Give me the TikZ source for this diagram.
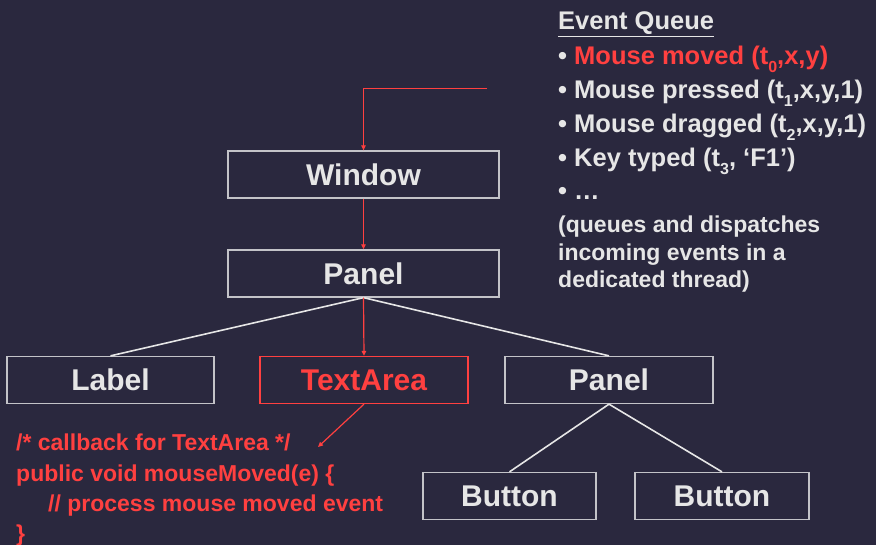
\documentclass[tikz,border=0pt]{standalone}
\usepackage{fontspec}
\setmainfont{Liberation Sans}
\usetikzlibrary{arrows.meta}
\definecolor{bg}{RGB}{42,40,62}
\definecolor{hl}{RGB}{255,64,64}
\definecolor{fg}{RGB}{230,230,230}
\definecolor{edge}{RGB}{195,195,200}
\newcommand{\fs}[1]{\fontsize{#1}{#1}\selectfont}
\newcommand{\lowsub}[1]{\raisebox{-0.28em}{\fontsize{16}{16}\selectfont #1}}
\tikzset{
  comp/.style={draw=edge, line width=1.3pt, text=fg, inner sep=0pt,
    minimum height=47pt, font=\fs{30}\bfseries},
  hicomp/.style={comp, draw=hl, text=hl},
  link/.style={draw=fg, line width=1.6pt},
  flow/.style={draw=hl, line width=1.2pt, -{Triangle[length=5pt,width=4.5pt]}},
  qline/.style={anchor=base west, inner sep=0pt, text=fg, font=\fs{25.5}\bfseries},
  note/.style={anchor=base west, inner sep=0pt, text=fg, font=\fs{23}\bfseries},
  code/.style={anchor=base west, inner sep=0pt, text=hl, font=\fs{23}\bfseries},
}
\begin{document}
\begin{tikzpicture}[x=1pt,y=-1pt]
\fill[bg] (0,0) rectangle (876,545);
\useasboundingbox (0,0) rectangle (876,545);

% component tree
\node[comp, minimum width=271pt] (win) at (363.5,174.5) {Window};
\node[comp, minimum width=271pt] (pan) at (363.5,273.5) {Panel};
\node[comp, minimum width=207pt] (lab) at (110.5,380) {Label};
\node[hicomp, minimum width=208pt] (ta) at (364,380) {TextArea};
\node[comp, minimum width=208pt] (pan2) at (609,380) {Panel};
\node[comp, minimum width=173pt] (b1) at (509.5,496) {Button};
\node[comp, minimum width=174pt] (b2) at (722,496) {Button};

\draw[link] (pan.south) -- (lab.north);
\draw[link] (pan.south) -- (pan2.north);
\draw[link] (pan2.south) -- (b1.north);
\draw[link] (pan2.south) -- (b2.north);

% event dispatch path
\coordinate (qout) at (487,88);
\coordinate (cb) at (318,447);
\draw[flow, line width=0.9pt] (qout) -| (win.north);
\draw[flow] (win.south) -- (pan.north);
\draw[flow] (pan.south) -- (ta.north);
\draw[flow] (ta.south) -- (cb);

% event queue
\node[anchor=base west, inner sep=0pt, text=fg, font=\fs{25.5}\bfseries] (eqh) at (558,30) {\underline{Event Queue}};
\node[qline] (e0) at (558,65) {• \textcolor{hl}{Mouse moved (t\lowsub{0},x,y)}};
\node[qline] (e1) at (558,99) {• Mouse pressed (t\lowsub{1},x,y,1)};
\node[qline] (e2) at (558,133) {• Mouse dragged (t\lowsub{2},x,y,1)};
\node[qline] (e3) at (558,167) {• Key typed (t\lowsub{3}, ‘F1’)};
\node[qline] (e4) at (558,200) {• …};
\node[note] (n1) at (558,233) {(queues and dispatches};
\node[note] (n2) at (558,261) {incoming events in a};
\node[note] (n3) at (558,288) {dedicated thread)};

% callback code
\node[code] (c1) at (16,450) {/* callback for TextArea */};
\node[code] (c2) at (16,481) {public void mouseMoved(e) \{};
\node[code] (c3) at (48,511) {// process mouse moved event};
\node[code] (c4) at (16,541) {\}};
\end{tikzpicture}
\end{document}
